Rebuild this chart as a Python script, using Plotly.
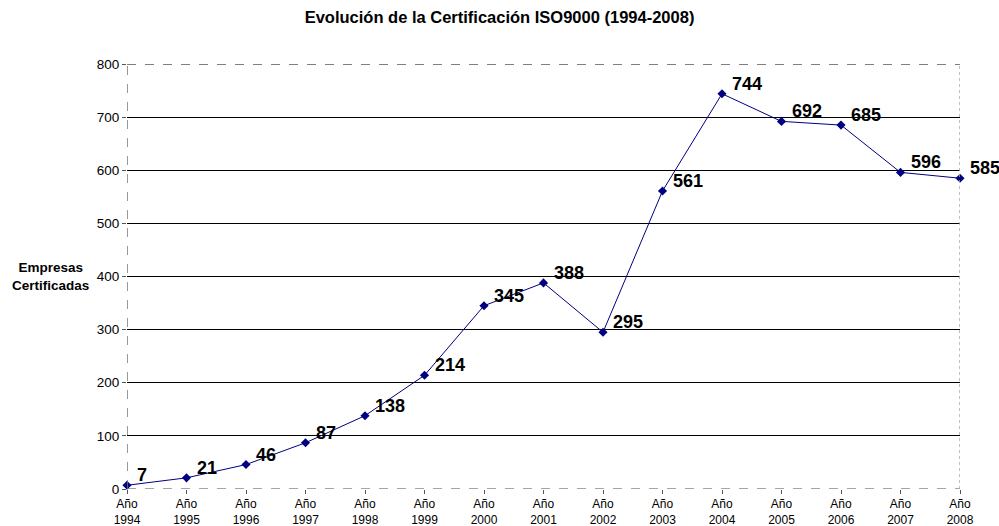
import plotly.graph_objects as go

# Certified companies per year
years = ["1994", "1995", "1996", "1997", "1998", "1999", "2000", "2001",
         "2002", "2003", "2004", "2005", "2006", "2007", "2008"]
empresas = [7, 21, 46, 87, 138, 214, 345, 388, 295, 561, 744, 692, 685, 596, 585]
y_ticks = [0, 100, 200, 300, 400, 500, 600, 700, 800]

x_pos = list(range(len(years)))
tick_text = [f"Año<br>{y}" for y in years]

NAVY = "#000080"
FONT = "Liberation Sans, Arial, sans-serif"

fig = go.Figure()
fig.add_trace(go.Scatter(
    x=x_pos, y=empresas, mode="lines+markers",
    line=dict(color=NAVY, width=1),
    marker=dict(symbol="diamond", size=7, color=NAVY),
    showlegend=False, hoverinfo="x+y", cliponaxis=False,
))

# value labels to the upper right of each point
for xi, v in zip(x_pos, empresas):
    fig.add_annotation(x=xi, y=v, text=f"<b>{v}</b>", showarrow=False,
                       xanchor="left", yanchor="middle", xshift=8, yshift=10,
                       font=dict(family=FONT, size=18, color="black"))

# frame: dashed top, dotted right, dashed gray left and bottom
last = len(years) - 1
fig.add_shape(type="line", xref="x", yref="y", x0=0, x1=last, y0=800, y1=800,
              line=dict(color="black", width=1, dash="dash"))
fig.add_shape(type="line", xref="x", yref="y", x0=last, x1=last, y0=0, y1=800,
              line=dict(color="#aaaaaa", width=1.5, dash="dot"))
fig.add_shape(type="line", xref="x", yref="y", x0=0, x1=0, y0=0, y1=800,
              line=dict(color="#777777", width=1.5, dash="dash"))
fig.add_shape(type="line", xref="x", yref="y", x0=0, x1=last, y0=0, y1=0,
              line=dict(color="#888888", width=1.5, dash="dash"), layer="below")

fig.add_annotation(xref="paper", yref="paper", x=-0.092, y=0.5,
                   text="<b>Empresas<br>Certificadas</b>", showarrow=False,
                   xanchor="center", yanchor="middle", align="center",
                   font=dict(family=FONT, size=13.5, color="black"))

fig.update_layout(
    width=999, height=526,
    margin=dict(l=127, r=39, t=64, b=37),
    paper_bgcolor="white", plot_bgcolor="white",
    title=dict(text="<b>Evolución de la Certificación ISO9000 (1994-2008)</b>",
               x=0.5, xanchor="center", y=0.968, yanchor="middle",
               font=dict(family=FONT, size=16.5, color="black")),
    font=dict(family=FONT, size=12, color="black"),
    xaxis=dict(range=[0, last], tickvals=x_pos, ticktext=tick_text,
               showgrid=False, zeroline=False, showline=False, automargin=False,
               ticks="outside", ticklen=4, tickcolor="#555555",
               tickfont=dict(family=FONT, size=12, color="black")),
    yaxis=dict(range=[0, 800], tickvals=y_ticks, showgrid=True, automargin=False,
               gridcolor="black", gridwidth=1, zeroline=False, showline=False,
               ticks="outside", ticklen=4, tickcolor="#555555",
               tickfont=dict(family=FONT, size=13.5, color="black")),
)

fig.write_html("out.html")
